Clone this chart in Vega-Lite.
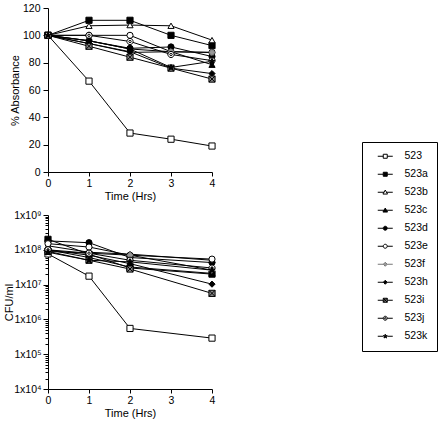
{
  "$schema": "https://vega.github.io/schema/vega-lite/v6.json",
  "padding": {"left": 3, "top": 3, "right": 0, "bottom": 6},
  "background": "white",
  "config": {
    "font": "Liberation Sans",
    "view": {"stroke": null},
    "axis": {
      "grid": false,
      "domainColor": "black",
      "tickColor": "black",
      "labelColor": "black",
      "titleColor": "black",
      "labelFontSize": 10.5,
      "titleFontSize": 11,
      "titleFontWeight": "normal",
      "tickSize": 4,
      "labelPadding": 2,
      "titlePadding": 2
    },
    "axisX": {"labelFlush": false},
    "axisY": {"labelPadding": 3, "tickSize": 5},
    "legend": {
      "labelFontSize": 10.5,
      "labelColor": "black"
    }
  },
  "datasets": {
    "abs": [
      {"series": "523", "t": 0, "v": 100}, {"series": "523", "t": 1, "v": 66.5}, {"series": "523", "t": 2, "v": 28.5}, {"series": "523", "t": 3, "v": 24}, {"series": "523", "t": 4, "v": 19},
      {"series": "523a", "t": 0, "v": 100}, {"series": "523a", "t": 1, "v": 111}, {"series": "523a", "t": 2, "v": 111}, {"series": "523a", "t": 3, "v": 100}, {"series": "523a", "t": 4, "v": 92.5},
      {"series": "523b", "t": 0, "v": 100}, {"series": "523b", "t": 1, "v": 107}, {"series": "523b", "t": 2, "v": 107.5}, {"series": "523b", "t": 3, "v": 107}, {"series": "523b", "t": 4, "v": 96.5},
      {"series": "523c", "t": 0, "v": 100}, {"series": "523c", "t": 1, "v": 96}, {"series": "523c", "t": 2, "v": 90}, {"series": "523c", "t": 3, "v": 88}, {"series": "523c", "t": 4, "v": 78.5},
      {"series": "523d", "t": 0, "v": 100}, {"series": "523d", "t": 1, "v": 96}, {"series": "523d", "t": 2, "v": 90.5}, {"series": "523d", "t": 3, "v": 91.5}, {"series": "523d", "t": 4, "v": 84.5},
      {"series": "523e", "t": 0, "v": 100}, {"series": "523e", "t": 1, "v": 100}, {"series": "523e", "t": 2, "v": 100}, {"series": "523e", "t": 3, "v": 88}, {"series": "523e", "t": 4, "v": 87.5},
      {"series": "523f", "t": 0, "v": 100}, {"series": "523f", "t": 1, "v": 94}, {"series": "523f", "t": 2, "v": 87.5}, {"series": "523f", "t": 3, "v": 88}, {"series": "523f", "t": 4, "v": 87.5},
      {"series": "523h", "t": 0, "v": 100}, {"series": "523h", "t": 1, "v": 94}, {"series": "523h", "t": 2, "v": 88}, {"series": "523h", "t": 3, "v": 76}, {"series": "523h", "t": 4, "v": 72},
      {"series": "523i", "t": 0, "v": 100}, {"series": "523i", "t": 1, "v": 92}, {"series": "523i", "t": 2, "v": 84}, {"series": "523i", "t": 3, "v": 76}, {"series": "523i", "t": 4, "v": 68},
      {"series": "523j", "t": 0, "v": 100}, {"series": "523j", "t": 1, "v": 100}, {"series": "523j", "t": 2, "v": 95.5}, {"series": "523j", "t": 3, "v": 86}, {"series": "523j", "t": 4, "v": 81.5},
      {"series": "523k", "t": 0, "v": 100}, {"series": "523k", "t": 1, "v": 96}, {"series": "523k", "t": 2, "v": 90}, {"series": "523k", "t": 3, "v": 76.5}, {"series": "523k", "t": 4, "v": 81}
    ],
    "cfu": [
      {"series": "523", "t": 0, "v": 76000000}, {"series": "523", "t": 1, "v": 17500000}, {"series": "523", "t": 2, "v": 550000}, {"series": "523", "t": 4, "v": 290000},
      {"series": "523a", "t": 0, "v": 200000000}, {"series": "523a", "t": 1, "v": 75000000}, {"series": "523a", "t": 2, "v": 30000000}, {"series": "523a", "t": 4, "v": 20000000},
      {"series": "523b", "t": 0, "v": 130000000}, {"series": "523b", "t": 1, "v": 85000000}, {"series": "523b", "t": 2, "v": 75000000}, {"series": "523b", "t": 4, "v": 50000000},
      {"series": "523c", "t": 0, "v": 100000000}, {"series": "523c", "t": 1, "v": 60000000}, {"series": "523c", "t": 2, "v": 32000000}, {"series": "523c", "t": 4, "v": 21000000},
      {"series": "523d", "t": 0, "v": 180000000}, {"series": "523d", "t": 1, "v": 160000000}, {"series": "523d", "t": 2, "v": 60000000}, {"series": "523d", "t": 4, "v": 43000000},
      {"series": "523e", "t": 0, "v": 150000000}, {"series": "523e", "t": 1, "v": 120000000}, {"series": "523e", "t": 2, "v": 70000000}, {"series": "523e", "t": 4, "v": 54000000},
      {"series": "523f", "t": 0, "v": 90000000}, {"series": "523f", "t": 1, "v": 80000000}, {"series": "523f", "t": 2, "v": 70000000}, {"series": "523f", "t": 4, "v": 26000000},
      {"series": "523h", "t": 0, "v": 100000000}, {"series": "523h", "t": 1, "v": 70000000}, {"series": "523h", "t": 2, "v": 40000000}, {"series": "523h", "t": 4, "v": 10300000},
      {"series": "523i", "t": 0, "v": 90000000}, {"series": "523i", "t": 1, "v": 50000000}, {"series": "523i", "t": 2, "v": 28000000}, {"series": "523i", "t": 4, "v": 5600000},
      {"series": "523j", "t": 0, "v": 100000000}, {"series": "523j", "t": 1, "v": 80000000}, {"series": "523j", "t": 2, "v": 50000000}, {"series": "523j", "t": 4, "v": 30000000},
      {"series": "523k", "t": 0, "v": 85000000}, {"series": "523k", "t": 1, "v": 50000000}, {"series": "523k", "t": 2, "v": 45000000}, {"series": "523k", "t": 4, "v": 26000000}
    ]
  },
  "spacing": 8,
  "vconcat": [
    {
      "width": 164,
      "height": 164,
      "data": {"name": "abs"},
      "encoding": {
        "x": {"field": "t", "type": "quantitative", "scale": {"domain": [0, 4]}, "axis": {"values": [0, 1, 2, 3, 4], "format": "d", "title": "Time (Hrs)"}},
        "y": {"field": "v", "type": "quantitative", "scale": {"domain": [0, 120]}, "axis": {"values": [0, 20, 40, 60, 80, 100, 120], "labelOverlap": false, "title": "% Absorbance", "titleX": -28}}
      },
      "layer": [
        {
          "mark": {"type": "line", "color": "black", "strokeWidth": 1},
          "encoding": {
            "detail": {"field": "series"}
          }
        },
        {
          "mark": {"type": "point", "filled": true, "strokeWidth": 1, "size": 38, "opacity": 1},
          "encoding": {
            "shape": {"field": "series", "type": "nominal", "legend": null, "scale": {"domain": ["523k", "523j", "523i", "523h", "523f", "523e", "523d", "523c", "523b", "523a", "523"], "range": ["M0,-1L0.3,-0.3L1,-0.3L0.45,0.15L0.6,0.9L0,0.45L-0.6,0.9L-0.45,0.15L-1,-0.3L-0.3,-0.3Z", "M1,0A1,1 0 1,1 -1,0A1,1 0 1,1 1,0ZM0.4,0A0.4,0.4 0 1,1 -0.4,0A0.4,0.4 0 1,1 0.4,0Z", "M-1,-1H1V1H-1ZM-1,-1L1,1M1,-1L-1,1", "diamond", "diamond", "circle", "circle", "triangle-up", "triangle-up", "square", "square"]}},
            "fill": {"field": "series", "type": "nominal", "scale": {"domain": ["523", "523a", "523b", "523c", "523d", "523e", "523f", "523h", "523i", "523j", "523k"], "range": ["white", "black", "white", "black", "black", "white", "#999999", "black", "#888888", "white", "black"]}},
            "stroke": {"field": "series", "type": "nominal", "scale": {"domain": ["523", "523a", "523b", "523c", "523d", "523e", "523f", "523h", "523i", "523j", "523k"], "range": ["black", "black", "black", "black", "black", "black", "#777777", "black", "black", "black", "black"]}}
          }
        }
      ]
    },
    {
      "width": 164,
      "height": 174,
      "data": {"name": "cfu"},
      "encoding": {
        "x": {"field": "t", "type": "quantitative", "scale": {"domain": [0, 4]}, "axis": {"values": [0, 1, 2, 3, 4], "format": "d", "title": "Time (Hrs)"}},
        "y": {"field": "v", "type": "quantitative", "scale": {"type": "log", "domain": [10000, 1000000000]},
          "axis": {
            "title": "CFU/ml",
            "titleX": -34,
            "labelPadding": 2,
            "labelOverlap": false,
            "values": [10000, 20000, 30000, 40000, 50000, 60000, 70000, 80000, 90000, 100000, 200000, 300000, 400000, 500000, 600000, 700000, 800000, 900000, 1000000, 2000000, 3000000, 4000000, 5000000, 6000000, 7000000, 8000000, 9000000, 10000000, 20000000, 30000000, 40000000, 50000000, 60000000, 70000000, 80000000, 90000000, 100000000, 200000000, 300000000, 400000000, 500000000, 600000000, 700000000, 800000000, 900000000, 1000000000],
            "labelExpr": "abs(log(datum.value)/LN10 - round(log(datum.value)/LN10)) < 0.001 ? '1x10' + ['⁰','¹','²','³','⁴','⁵','⁶','⁷','⁸','⁹'][round(log(datum.value)/LN10)] : ''",
            "tickSize": {"condition": {"test": "abs(log(datum.value)/LN10 - round(log(datum.value)/LN10)) < 0.001", "value": 5}, "value": 3}
          }
        }
      },
      "layer": [
        {
          "mark": {"type": "line", "color": "black", "strokeWidth": 1},
          "encoding": {
            "detail": {"field": "series"}
          }
        },
        {
          "mark": {"type": "point", "filled": true, "strokeWidth": 1, "size": 38, "opacity": 1},
          "encoding": {
            "shape": {"field": "series", "type": "nominal", "legend": null, "scale": {"domain": ["523k", "523j", "523i", "523h", "523f", "523e", "523d", "523c", "523b", "523a", "523"], "range": ["M0,-1L0.3,-0.3L1,-0.3L0.45,0.15L0.6,0.9L0,0.45L-0.6,0.9L-0.45,0.15L-1,-0.3L-0.3,-0.3Z", "M1,0A1,1 0 1,1 -1,0A1,1 0 1,1 1,0ZM0.4,0A0.4,0.4 0 1,1 -0.4,0A0.4,0.4 0 1,1 0.4,0Z", "M-1,-1H1V1H-1ZM-1,-1L1,1M1,-1L-1,1", "diamond", "diamond", "circle", "circle", "triangle-up", "triangle-up", "square", "square"]}},
            "fill": {"field": "series", "type": "nominal", "scale": {"domain": ["523", "523a", "523b", "523c", "523d", "523e", "523f", "523h", "523i", "523j", "523k"], "range": ["white", "black", "white", "black", "black", "white", "#999999", "black", "#888888", "white", "black"]},
              "legend": {
                "title": null,
                "orient": "none",
                "legendX": 314,
                "legendY": 134,
                "strokeColor": "black",
                "fillColor": "white",
                "padding": 9,
                "symbolSize": 16,
                "symbolOffset": 9,
                "labelOffset": 14,
                "rowPadding": 7,
                "symbolStrokeWidth": 1,
                "symbolType": {"expr": "['M-3.75,0H-1M1,0H3.75M-1,-1H1V1H-1Z','M-3.75,0H-1M1,0H3.75M-1,-1H1V1H-1Z','M-3.75,0H-0.6M0.6,0H3.75M0,-1.1L1.15,0.9H-1.15Z','M-3.75,0H-0.6M0.6,0H3.75M0,-1.1L1.15,0.9H-1.15Z','M-3.75,0H-1M1,0H3.75M1,0A1,1 0 1,1 -1,0A1,1 0 1,1 1,0Z','M-3.75,0H-1M1,0H3.75M1,0A1,1 0 1,1 -1,0A1,1 0 1,1 1,0Z','M-3.75,0H-1M1,0H3.75M0,-1L1,0L0,1L-1,0Z','M-3.75,0H-1M1,0H3.75M0,-1L1,0L0,1L-1,0Z','M-3.75,0H-1M1,0H3.75M-1,-1H1V1H-1ZM-1,-1L1,1M1,-1L-1,1','M-3.75,0H-1M1,0H3.75M1,0A1,1 0 1,1 -1,0A1,1 0 1,1 1,0ZM0.4,0A0.4,0.4 0 1,1 -0.4,0A0.4,0.4 0 1,1 0.4,0Z','M-3.75,0H-1M1,0H3.75M0,-1L0.3,-0.3L1,-0.3L0.45,0.15L0.6,0.9L0,0.45L-0.6,0.9L-0.45,0.15L-1,-0.3L-0.3,-0.3Z'][indexof(['523','523a','523b','523c','523d','523e','523f','523h','523i','523j','523k'], datum.value)]"}
              }
            },
            "stroke": {"field": "series", "type": "nominal", "scale": {"domain": ["523", "523a", "523b", "523c", "523d", "523e", "523f", "523h", "523i", "523j", "523k"], "range": ["black", "black", "black", "black", "black", "black", "#777777", "black", "black", "black", "black"]},
              "legend": {
                "title": null,
                "orient": "none",
                "legendX": 314,
                "legendY": 134,
                "strokeColor": "black",
                "fillColor": "white",
                "padding": 9,
                "symbolSize": 16,
                "symbolOffset": 9,
                "labelOffset": 14,
                "rowPadding": 7,
                "symbolStrokeWidth": 1,
                "symbolType": {"expr": "['M-3.75,0H-1M1,0H3.75M-1,-1H1V1H-1Z','M-3.75,0H-1M1,0H3.75M-1,-1H1V1H-1Z','M-3.75,0H-0.6M0.6,0H3.75M0,-1.1L1.15,0.9H-1.15Z','M-3.75,0H-0.6M0.6,0H3.75M0,-1.1L1.15,0.9H-1.15Z','M-3.75,0H-1M1,0H3.75M1,0A1,1 0 1,1 -1,0A1,1 0 1,1 1,0Z','M-3.75,0H-1M1,0H3.75M1,0A1,1 0 1,1 -1,0A1,1 0 1,1 1,0Z','M-3.75,0H-1M1,0H3.75M0,-1L1,0L0,1L-1,0Z','M-3.75,0H-1M1,0H3.75M0,-1L1,0L0,1L-1,0Z','M-3.75,0H-1M1,0H3.75M-1,-1H1V1H-1ZM-1,-1L1,1M1,-1L-1,1','M-3.75,0H-1M1,0H3.75M1,0A1,1 0 1,1 -1,0A1,1 0 1,1 1,0ZM0.4,0A0.4,0.4 0 1,1 -0.4,0A0.4,0.4 0 1,1 0.4,0Z','M-3.75,0H-1M1,0H3.75M0,-1L0.3,-0.3L1,-0.3L0.45,0.15L0.6,0.9L0,0.45L-0.6,0.9L-0.45,0.15L-1,-0.3L-0.3,-0.3Z'][indexof(['523','523a','523b','523c','523d','523e','523f','523h','523i','523j','523k'], datum.value)]"}
              }
            }
          }
        }
      ]
    }
  ]
}
